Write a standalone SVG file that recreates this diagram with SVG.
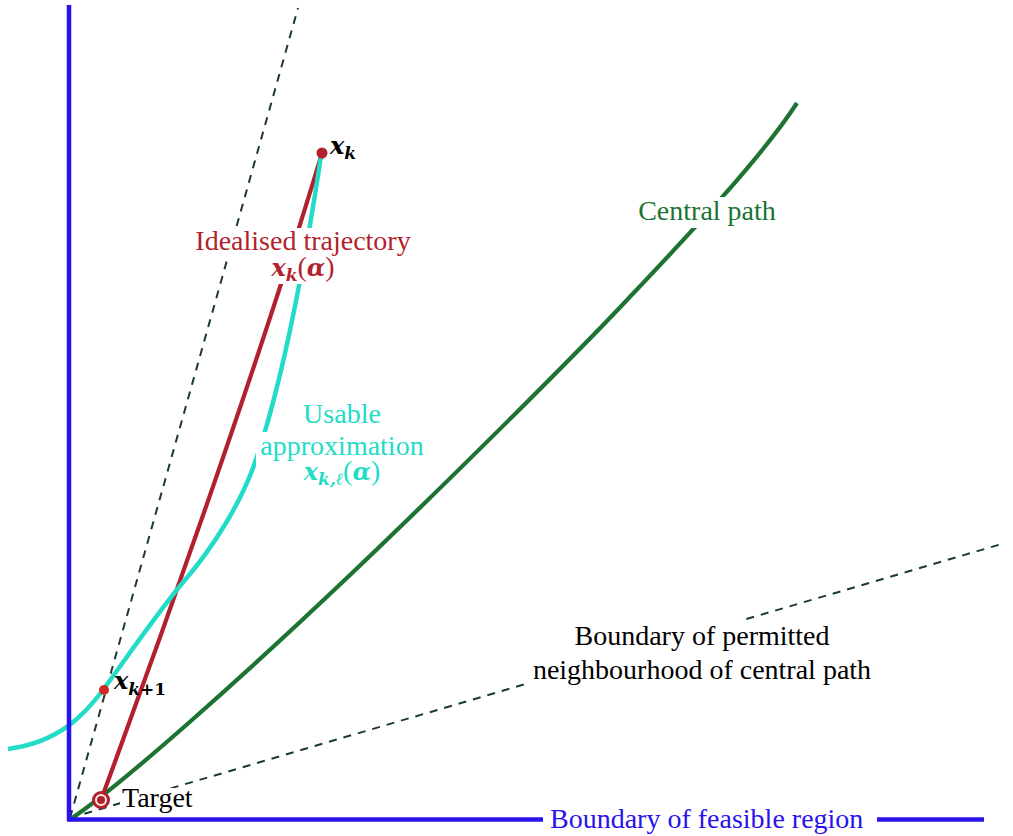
<svg xmlns="http://www.w3.org/2000/svg" width="1013" height="836" viewBox="0 0 1013 836">
<style>
text{font-family:"Liberation Serif","Times New Roman",serif;font-size:28px}
.m{font-family:"DejaVu Serif",serif;font-style:italic;font-weight:bold;font-size:24px}
.s{font-family:"DejaVu Serif",serif;font-size:17px;font-style:italic;font-weight:bold}
.su{font-family:"DejaVu Serif",serif;font-size:17px;font-weight:bold}
.dash{fill:none;stroke:#1d3838;stroke-width:2;stroke-dasharray:8 7}
.axis{fill:none;stroke:#2a12ee;stroke-width:4.5}
.red{fill:none;stroke:#b21f2d;stroke-width:4.2;stroke-linecap:round}
.cyan{fill:none;stroke:#22dcc8;stroke-width:4.5;stroke-linecap:butt}
.green{fill:none;stroke:#1c7332;stroke-width:4.2}
.bg{fill:#fff}
</style>
<rect width="1013" height="836" fill="#fff"/>
<g id="connectors">
<line class="dash" x1="70" y1="818" x2="298" y2="8"/>
<line class="dash" x1="70" y1="818" x2="1005" y2="543"/>
<path class="green" d="M69,820 C120,787 250,670 350,575 C450,480 580,350 627,300 C680,244 760,160 797,103"/>
<path class="red" d="M101,800 C160,640 260,360 322,153"/>
<path class="cyan" d="M321,156 C310,230 285,380 253,468 C240,503 215,545 185,580 C160,609 125,660 103,690 C85,714 60,742 8,749"/>
<line class="axis" x1="69" y1="5" x2="69" y2="821"/>
<line class="axis" x1="67" y1="819.5" x2="984" y2="819.5"/>
</g>
<g id="feasible-label">
<rect class="bg" x="543" y="806" width="334" height="30"/>
<text x="550" y="828" fill="#2a12ee">Boundary of feasible region</text>
</g>
<g id="central-path-label">
<rect class="bg" x="634" y="197" width="146" height="31"/>
<text x="707" y="220" text-anchor="middle" fill="#1c7332">Central path</text>
</g>
<g id="neighbourhood-label">
<rect class="bg" x="569" y="620" width="267" height="31"/>
<rect class="bg" x="525" y="651" width="354" height="35"/>
<text x="702" y="645" text-anchor="middle" fill="#000">Boundary of permitted</text>
<text x="702" y="679" text-anchor="middle" fill="#000">neighbourhood of central path</text>
</g>
<g id="idealised-label">
<rect class="bg" x="190" y="228" width="225" height="30"/>
<rect class="bg" x="262" y="252" width="81" height="32"/>
<text x="303" y="250" text-anchor="middle" fill="#b21f2d">Idealised trajectory</text>
<text x="303" y="276" text-anchor="middle" fill="#b21f2d"><tspan class="m">x</tspan><tspan class="s" dy="5">k</tspan><tspan dy="-5">(</tspan><tspan class="m">α</tspan>)</text>
</g>
<g id="usable-label">
<rect class="bg" x="300" y="403" width="84" height="26"/>
<rect class="bg" x="256" y="432" width="172" height="34"/>
<rect class="bg" x="293" y="458" width="98" height="30"/>
<text x="342" y="423" text-anchor="middle" fill="#22dcc8">Usable</text>
<text x="342" y="455" text-anchor="middle" fill="#22dcc8">approximation</text>
<text x="342" y="480" text-anchor="middle" fill="#22dcc8"><tspan class="m">x</tspan><tspan class="s" dy="5">k,ℓ</tspan><tspan dy="-5">(</tspan><tspan class="m">α</tspan>)</text>
</g>
<g id="xk">
<circle cx="322" cy="153" r="5.5" fill="#b21f2d"/>
<text x="330" y="154" fill="#000"><tspan class="m">x</tspan><tspan class="s" dy="5">k</tspan></text>
</g>
<g id="xk1">
<circle cx="104" cy="690" r="5" fill="#cc2a22"/>
<text x="114" y="689" fill="#000"><tspan class="m">x</tspan><tspan class="s" dy="6">k</tspan><tspan class="su">+1</tspan></text>
</g>
<g id="target">
<rect class="bg" x="120" y="788" width="76" height="26"/>
<circle cx="101" cy="800" r="7.5" fill="#fbeee2" stroke="#b21f2d" stroke-width="3"/>
<circle cx="101" cy="800" r="4" fill="#b21f2d"/>
<text x="122" y="807" fill="#000">Target</text>
</g>
</svg>
